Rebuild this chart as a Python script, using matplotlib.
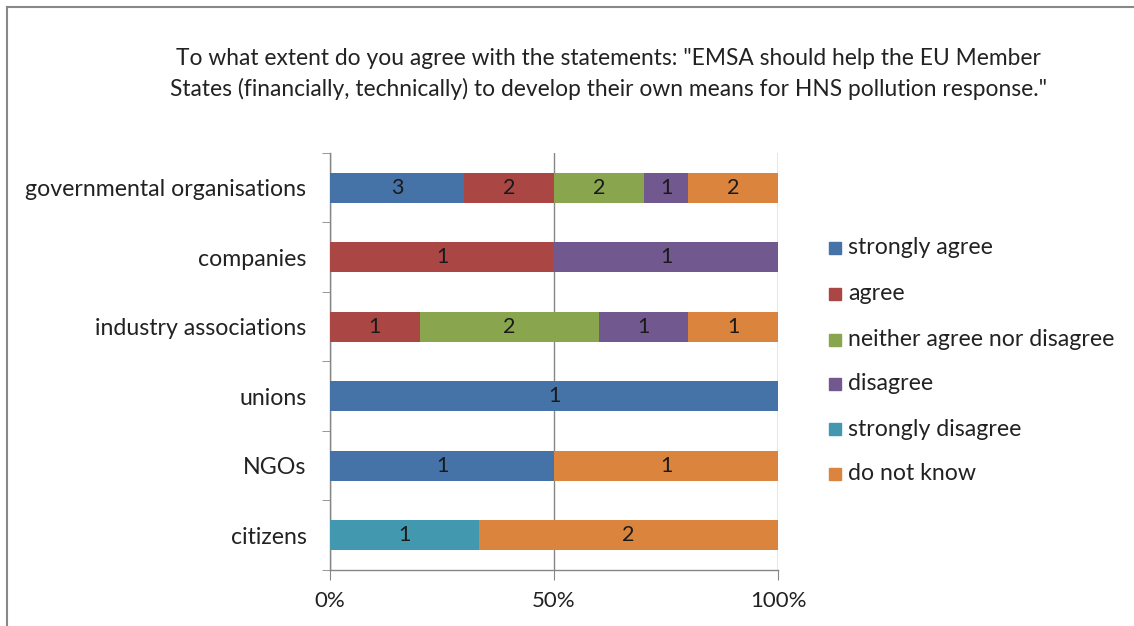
import matplotlib
matplotlib.use("Agg")
import matplotlib.pyplot as plt
import numpy as np
from matplotlib.patches import Rectangle
from matplotlib.lines import Line2D

plt.rcParams['font.family'] = ['Lato', 'DejaVu Sans']

categories = ["governmental organisations", "companies", "industry associations",
              "unions", "NGOs", "citizens"]
series_names = ["strongly agree", "agree", "neither agree nor disagree",
                "disagree", "strongly disagree", "do not know"]
strongly_agree = [3, 0, 0, 1, 1, 0]
agree = [2, 1, 1, 0, 0, 0]
neither = [2, 0, 2, 0, 0, 0]
disagree = [1, 1, 1, 0, 0, 0]
strongly_disagree = [0, 0, 0, 0, 0, 1]
do_not_know = [2, 0, 1, 0, 1, 2]
colors = ["#4572A7", "#AA4643", "#89A54E", "#71588F", "#4198AF", "#DB843D"]
title = ('To what extent do you agree with the statements: "EMSA should help the EU Member\n'
         'States (financially, technically) to develop their own means for HNS pollution response."')

counts = np.array([strongly_agree, agree, neither, disagree,
                   strongly_disagree, do_not_know], dtype=float)
totals = counts.sum(axis=0)
shares = counts / totals * 100

fig = plt.figure(figsize=(11.34, 6.26), dpi=100)
ax = fig.add_axes([330 / 1134, 1 - 570 / 626, 448 / 1134, 417 / 626])

y = np.arange(len(categories))
left = np.zeros(len(categories))
grid_c = "#868686"
for k in range(len(series_names)):
    ax.barh(y, shares[k], left=left, height=0.43, color=colors[k],
            label=series_names[k], zorder=3)
    for i in range(len(categories)):
        if counts[k, i] > 0:
            ax.text(left[i] + shares[k, i] / 2, y[i], f"{int(counts[k, i])}",
                    ha="center", va="center", fontsize=15.5, color="#1a1a1a", zorder=4)
    left += shares[k]

ax.set_xlim(0, 100)
ax.set_ylim(len(categories) - 0.5, -0.5)
ax.set_xticks([0, 50, 100])
ax.set_xticklabels(["0%", "50%", "100%"], fontsize=16, color="#222222")
ax.set_yticks(y)
ax.set_yticklabels(categories, fontsize=16.7, color="#222222")
ax.tick_params(axis="y", length=0, pad=17)
ax.set_yticks(np.arange(-0.5, len(categories)), minor=True)
ax.tick_params(axis="y", which="minor", length=6, color=grid_c, direction="out")
ax.tick_params(axis="x", length=7, color=grid_c, direction="out", pad=8)
ax.grid(axis="x", color=grid_c, linewidth=1, zorder=0)
for s in ["top", "right"]:
    ax.spines[s].set_visible(False)
for s in ["left", "bottom"]:
    ax.spines[s].set_color(grid_c)
    ax.spines[s].set_linewidth(1)

fig.text(608 / 1134, 1 - 74 / 626, title, ha="center", va="center",
         fontsize=16.4, color="#222222", linespacing=1.45)

# legend
leg_y = [248, 294, 340, 384, 429, 474]
for k, name in enumerate(series_names):
    yy = 1 - leg_y[k] / 626
    fig.patches.append(Rectangle((829 / 1134, yy - 6 / 626), 12 / 1134, 12 / 626,
                                 transform=fig.transFigure, color=colors[k]))
    fig.text(848 / 1134, yy, name, ha="left", va="center", fontsize=16.7,
             color="#222222")

# frame lines around the chart
fig.lines.append(Line2D([7 / 1134, 1], [1 - 7 / 626, 1 - 7 / 626],
                        transform=fig.transFigure, color="#888888", linewidth=1.5))
fig.lines.append(Line2D([7 / 1134, 7 / 1134], [0, 1 - 7 / 626],
                        transform=fig.transFigure, color="#888888", linewidth=1.5))

fig.savefig("out.png", dpi=100)
